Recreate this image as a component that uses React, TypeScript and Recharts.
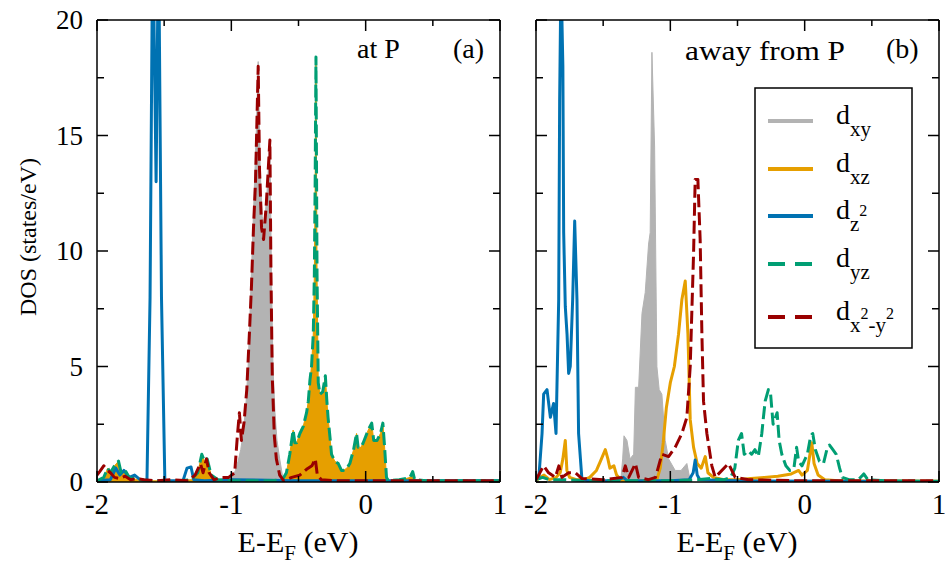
import React from 'react';
import { ComposedChart, Area, Line, XAxis, YAxis } from 'recharts';

type Pt = [number, number];

const energyTicks = [-2, -1.5, -1, -0.5, 0, 0.5, 1];
const dosTicks = [0, 2.5, 5, 7.5, 10, 12.5, 15, 17.5, 20];

// (a) at P : [E - E_F (eV), DOS (states/eV)]
const aXy: Pt[] = [
  [-1.02, 0], [-0.99, 0.2], [-0.97, 0.5], [-0.95, 0.9], [-0.93, 1.4], [-0.91, 2.2], [-0.89, 3.5],
  [-0.875, 5], [-0.86, 7.5], [-0.845, 10], [-0.83, 12.5], [-0.815, 15], [-0.8, 18.2], [-0.785, 13.5],
  [-0.77, 11.5], [-0.755, 11], [-0.735, 12.5], [-0.713, 14.8], [-0.7, 8.5], [-0.69, 5], [-0.675, 3],
  [-0.66, 1.8], [-0.64, 1.0], [-0.62, 0.3], [-0.6, 0.05], [-0.57, 0],
];
const aXz: Pt[] = [
  [-2, 0.05], [-1.95, 0.2], [-1.92, 0.6], [-1.9, 0.4], [-1.87, 0.7], [-1.84, 0.9], [-1.82, 0.4],
  [-1.79, 0.5], [-1.76, 0.2], [-1.7, 0.1], [-1.6, 0.05], [-1.4, 0.05], [-1.3, 0.1], [-1.25, 0.4],
  [-1.22, 1.2], [-1.2, 0.9], [-1.18, 1.0], [-1.15, 0.3], [-1.1, 0.1], [-1.0, 0.05], [-0.7, 0.05],
  [-0.62, 0.1], [-0.59, 0.4], [-0.565, 1.2], [-0.54, 2.25], [-0.527, 1.7], [-0.514, 1.7], [-0.49, 2.1],
  [-0.465, 2.4], [-0.44, 3.0], [-0.427, 3.5], [-0.415, 4.4], [-0.403, 5.0], [-0.39, 6.4], [-0.382, 9],
  [-0.376, 13], [-0.37, 18.4], [-0.362, 9], [-0.353, 4.3], [-0.34, 3.8], [-0.32, 3.9], [-0.3, 4.6],
  [-0.29, 3.6], [-0.28, 2.8], [-0.265, 1.9], [-0.254, 1.2], [-0.23, 0.9], [-0.204, 0.8], [-0.18, 0.5],
  [-0.167, 0.5], [-0.14, 0.6], [-0.118, 0.8], [-0.09, 1.4], [-0.068, 2.1], [-0.056, 1.5], [-0.035, 1.5],
  [-0.018, 1.7], [0.019, 2.25], [0.045, 2.55], [0.06, 1.8], [0.085, 1.8], [0.11, 2.1], [0.128, 2.55],
  [0.14, 1.6], [0.155, 0.2], [0.17, 0.05], [0.25, 0.1], [0.3, 0.15], [0.33, 0.2], [0.35, 0.45],
  [0.365, 0.1], [0.45, 0.05], [1, 0.05],
];
const aZ2: Pt[] = [
  [-2, 0.05], [-1.9, 0.1], [-1.86, 0.6], [-1.83, 0.3], [-1.8, 0.5], [-1.76, 0.2], [-1.72, 0.3],
  [-1.68, 0.1], [-1.64, 0.05], [-1.628, 0.1], [-1.605, 8], [-1.585, 24], [-1.56, 13], [-1.542, 24],
  [-1.52, 8], [-1.495, 0.1], [-1.48, 0.05], [-1.36, 0.05], [-1.33, 0.6], [-1.3, 0.65], [-1.28, 0.1],
  [-1.2, 0.05], [-1.0, 0.1], [-0.5, 0.05], [1, 0.05],
];
const aYz: Pt[] = aXz;
const aX2y2: Pt[] = [
  [-2, 0.3], [-1.98, 0.45], [-1.95, 0.7], [-1.92, 0.5], [-1.9, 0.4], [-1.87, 0.2], [-1.83, 0.15],
  [-1.79, 0.25], [-1.75, 0.1], [-1.7, 0.15], [-1.65, 0.1], [-1.55, 0.05], [-1.45, 0.1], [-1.32, 0.05],
  [-1.27, 0.3], [-1.23, 0.8], [-1.21, 0.4], [-1.185, 1.0], [-1.165, 0.4], [-1.13, 0.1], [-1.07, 0.2],
  [-1.02, 0.2], [-0.975, 0.4], [-0.955, 2.0], [-0.94, 3.0], [-0.925, 1.8], [-0.905, 2.6], [-0.885, 4.0],
  [-0.865, 6.5], [-0.85, 8.5], [-0.835, 11], [-0.82, 13], [-0.81, 15.5], [-0.8, 18.0], [-0.79, 13.5],
  [-0.775, 11], [-0.76, 10.5], [-0.74, 12], [-0.713, 14.8], [-0.705, 9], [-0.695, 4.5], [-0.68, 2.0],
  [-0.665, 1.0], [-0.64, 0.3], [-0.61, 0.05], [-0.55, 0.2], [-0.49, 0.3], [-0.44, 0.55], [-0.4, 0.7],
  [-0.375, 1.0], [-0.36, 0.3], [-0.33, 0.1], [-0.2, 0.05], [0.5, 0.05], [1, 0.05],
];

// (b) away from P
const bXy: Pt[] = [
  [-1.37, 0], [-1.355, 1.0], [-1.345, 2.0], [-1.323, 1.8], [-1.3, 1.0], [-1.273, 1.2], [-1.26, 4.1],
  [-1.236, 4.1], [-1.211, 7.3], [-1.187, 8.2], [-1.162, 10.3], [-1.15, 10.8], [-1.137, 18.6],
  [-1.117, 14.5], [-1.1, 5.0], [-1.083, 4.0], [-1.063, 3.8], [-1.038, 1.8], [-1.013, 1.0], [-0.964, 0.5],
  [-0.92, 0.5], [-0.877, 0.8], [-0.86, 0.3], [-0.84, 0],
];
const bXz: Pt[] = [
  [-2, 0.05], [-1.97, 0.2], [-1.94, 0.3], [-1.9, 0.1], [-1.85, 0.2], [-1.82, 0.4], [-1.8, 1.0],
  [-1.782, 1.8], [-1.77, 0.5], [-1.75, 0.2], [-1.7, 0.1], [-1.64, 0.1], [-1.6, 0.2], [-1.55, 0.5],
  [-1.52, 0.9], [-1.484, 1.4], [-1.465, 1.0], [-1.45, 0.6], [-1.42, 0.7], [-1.4, 0.3], [-1.36, 0.05],
  [-1.2, 0.05], [-1.1, 0.1], [-1.075, 0.6], [-1.053, 1.7], [-1.03, 3.2], [-1.0, 4.3], [-0.97, 5.0],
  [-0.939, 6.4], [-0.914, 7.9], [-0.889, 8.7], [-0.869, 6.4], [-0.852, 2.7], [-0.827, 1.5], [-0.8, 0.8],
  [-0.77, 0.6], [-0.74, 1.1], [-0.72, 0.4], [-0.68, 0.2], [-0.6, 0.1], [-0.5, 0.1], [-0.4, 0.15],
  [-0.3, 0.2], [-0.2, 0.25], [-0.1, 0.35], [-0.045, 0.5], [-0.02, 0.3], [0.02, 0.5], [0.053, 1.7],
  [0.07, 0.8], [0.1, 0.3], [0.15, 0.1], [0.25, 0.05], [1, 0.03],
];
const bZ2: Pt[] = [
  [-1.98, 0.1], [-1.955, 2.1], [-1.943, 3.8], [-1.918, 4.0], [-1.893, 2.8], [-1.869, 3.4], [-1.851, 2.1],
  [-1.831, 7.9], [-1.824, 16.5], [-1.814, 22], [-1.8, 18], [-1.794, 10.8], [-1.782, 7.6], [-1.769, 6.4],
  [-1.757, 4.7], [-1.745, 5.0], [-1.727, 7.9], [-1.712, 11.3], [-1.695, 7.9], [-1.683, 2.1], [-1.658, 0.1],
  [-1.6, 0.05], [-1.4, 0.05], [-1.35, 0.2], [-1.32, 0.05], [-1.0, 0.05], [-0.86, 0.1], [-0.83, 0.4],
  [-0.815, 0.95], [-0.8, 0.3], [-0.78, 0.1], [-0.5, 0.05], [1, 0.02],
];
const bYz: Pt[] = [
  [-2, 0.1], [-1.95, 0.2], [-1.9, 0.1], [-1.8, 0.1], [-1.6, 0.05], [-1.2, 0.05], [-1.0, 0.05],
  [-0.8, 0.1], [-0.7, 0.15], [-0.6, 0.1], [-0.55, 0.2], [-0.52, 0.6], [-0.494, 1.8], [-0.47, 2.1],
  [-0.45, 1.2], [-0.42, 1.35], [-0.395, 1.2], [-0.37, 1.4], [-0.345, 1.1], [-0.319, 2.1], [-0.307, 2.8],
  [-0.294, 3.5], [-0.27, 4.0], [-0.255, 3.9], [-0.235, 2.5], [-0.205, 3.0], [-0.19, 1.8], [-0.17, 1.2],
  [-0.14, 0.7], [-0.11, 0.5], [-0.08, 0.6], [-0.06, 1.5], [-0.045, 0.9], [-0.02, 0.7], [0.02, 1.2],
  [0.045, 2.0], [0.06, 2.1], [0.08, 1.4], [0.11, 0.9], [0.14, 0.8], [0.165, 1.4], [0.185, 1.6],
  [0.21, 1.4], [0.235, 1.2], [0.26, 0.6], [0.28, 0.2], [0.33, 0.1], [0.4, 0.1], [0.44, 0.35],
  [0.47, 0.1], [0.6, 0.05], [1, 0.03],
];
const bX2y2: Pt[] = [
  [-2, 0.1], [-1.99, 0.2], [-1.943, 0.7], [-1.906, 0.4], [-1.856, 0.2], [-1.83, 0.7], [-1.807, 0.2],
  [-1.757, 0.4], [-1.707, 0.4], [-1.658, 0.15], [-1.5, 0.1], [-1.36, 0.2], [-1.335, 0.7], [-1.31, 0.2],
  [-1.26, 0.8], [-1.236, 0.2], [-1.162, 0.1], [-1.11, 0.2], [-1.063, 1.2], [-1.013, 1.1], [-0.964, 1.5],
  [-0.914, 2.1], [-0.877, 2.8], [-0.852, 5.0], [-0.827, 9.9], [-0.815, 13.1], [-0.795, 13.1],
  [-0.778, 10.5], [-0.765, 6.4], [-0.753, 3.5], [-0.728, 2.1], [-0.691, 0.7], [-0.666, 0.2],
  [-0.567, 0.8], [-0.517, 0.2], [-0.418, 0.1], [0, 0.05], [1, 0.05],
];

const C_XY = '#b3b3b3';
const C_XZ = '#e69f00';
const C_Z2 = '#0072b2';
const C_YZ = '#009e73';
const C_X2Y2 = '#990000';

const serif = 'Liberation Serif, DejaVu Serif, serif';
const frame = { stroke: '#000', strokeWidth: 1.5 };
const rows = (pts: Pt[]) => pts.map(([e, dos]) => ({ e, dos }));
const txt = { fontFamily: serif };
const dash = '13 5';

function BottomTick(props: any) {
  const { x, y, payload } = props;
  const major = Number.isInteger(payload.value);
  return (
    <g>
      <line x1={x} x2={x} y1={y} y2={y - (major ? 11 : 6)} stroke="#000" strokeWidth={1.5} />
      {major && (
        <text x={x} y={y + 32} textAnchor="middle" style={txt} fontSize={29} fill="#000">
          {payload.value}
        </text>
      )}
    </g>
  );
}

function TopTick(props: any) {
  const { x, y, payload } = props;
  const major = Number.isInteger(payload.value);
  return <line x1={x} x2={x} y1={y} y2={y + (major ? 11 : 6)} stroke="#000" strokeWidth={1.5} />;
}

function LeftTick(props: any) {
  const { x, y, payload, showLabels } = props;
  const major = payload.value % 5 === 0;
  return (
    <g>
      <line x1={x} x2={x + (major ? 11 : 7)} y1={y} y2={y} stroke="#000" strokeWidth={1.5} />
      {showLabels && major && (
        <text x={x - 14} y={y + 9} textAnchor="end" style={txt} fontSize={27} fill="#000">
          {payload.value}
        </text>
      )}
    </g>
  );
}

function RightTick(props: any) {
  const { x, y, payload } = props;
  const major = payload.value % 5 === 0;
  return <line x1={x} x2={x - (major ? 11 : 7)} y1={y} y2={y} stroke="#000" strokeWidth={1.5} />;
}

function Panel({ left, width, yWidth, right, showLabels, children }: any) {
  return (
    <div style={{ position: 'absolute', left, top: 0 }}>
      <ComposedChart width={width} height={567} margin={{ top: 19, right, left: 0, bottom: 0 }}>
        <XAxis xAxisId="b" dataKey="e" type="number" domain={[-2, 1]} ticks={energyTicks} interval={0}
          allowDataOverflow height={85} tickSize={0} tickMargin={0} tickLine={false} axisLine={frame}
          tick={<BottomTick />} />
        <XAxis xAxisId="t" orientation="top" dataKey="e" type="number" domain={[-2, 1]} ticks={energyTicks}
          interval={0} allowDataOverflow height={1} tickSize={0} tickMargin={0} tickLine={false}
          axisLine={frame} tick={<TopTick />} />
        <YAxis yAxisId="l" type="number" domain={[0, 20]} ticks={dosTicks} interval={0} allowDataOverflow
          width={yWidth} tickSize={0} tickMargin={0} tickLine={false} axisLine={frame}
          tick={<LeftTick showLabels={showLabels} />} />
        <YAxis yAxisId="r" orientation="right" type="number" domain={[0, 20]} ticks={dosTicks} interval={0}
          allowDataOverflow width={1} tickSize={0} tickMargin={0} tickLine={false} axisLine={frame}
          tick={<RightTick />} />
        {children}
      </ComposedChart>
    </div>
  );
}

const lineProps = {
  xAxisId: 'b',
  yAxisId: 'l',
  dataKey: 'dos',
  type: 'linear' as const,
  dot: false,
  activeDot: false,
  strokeWidth: 3,
  isAnimationActive: false,
  strokeLinejoin: 'round' as const,
};

function LegendBox() {
  const x0 = 768;
  const x1 = 813;
  const tx = 836;
  const ys = [121, 169, 216, 264, 317];
  return (
    <g style={txt} fill="#000">
      <rect x={755} y={88} width={157} height={260} fill="#fff" stroke="#000" strokeWidth={1.5} />
      <line x1={x0} x2={x1} y1={ys[0]} y2={ys[0]} stroke={C_XY} strokeWidth={4} />
      <line x1={x0} x2={x1} y1={ys[1]} y2={ys[1]} stroke={C_XZ} strokeWidth={4} />
      <line x1={x0} x2={x1} y1={ys[2]} y2={ys[2]} stroke={C_Z2} strokeWidth={4} />
      <line x1={x0} x2={x1} y1={ys[3]} y2={ys[3]} stroke={C_YZ} strokeWidth={4} strokeDasharray="17 10" />
      <line x1={x0} x2={x1} y1={ys[4]} y2={ys[4]} stroke={C_X2Y2} strokeWidth={4} strokeDasharray="17 10" />
      <text x={tx} y={ys[0] + 3} fontSize={28}>
        d<tspan fontSize={21} dy={12}>xy</tspan>
      </text>
      <text x={tx} y={ys[1] + 3} fontSize={28}>
        d<tspan fontSize={21} dy={12}>xz</tspan>
      </text>
      <text x={tx} y={ys[2] + 3} fontSize={28}>
        d<tspan fontSize={21} dy={12}>z</tspan><tspan fontSize={16} dy={-15}>2</tspan>
      </text>
      <text x={tx} y={ys[3] + 3} fontSize={28}>
        d<tspan fontSize={21} dy={12}>yz</tspan>
      </text>
      <text x={tx} y={ys[4] + 3} fontSize={28}>
        d<tspan fontSize={21} dy={12}>x</tspan><tspan fontSize={16} dy={-13}>2</tspan>
        <tspan fontSize={21} dy={13}>-y</tspan><tspan fontSize={16} dy={-13}>2</tspan>
      </text>
    </g>
  );
}

export default function App() {
  return (
    <div style={{ position: 'absolute', left: 0, top: 0, width: 945, height: 567, background: '#fff', overflow: 'hidden', fontFamily: serif }}>
      <Panel left={0} width={510} yWidth={97} right={9} showLabels>
        <Area {...lineProps} data={rows(aXy)} stroke={C_XY} strokeWidth={1} fill={C_XY} fillOpacity={1} />
        <Area {...lineProps} data={rows(aXz)} stroke={C_XZ} strokeWidth={1} fill={C_XZ} fillOpacity={1} />
        <Line {...lineProps} data={rows(aZ2)} stroke={C_Z2} />
        <Line {...lineProps} data={rows(aYz)} stroke={C_YZ} strokeDasharray={dash} />
        <Line {...lineProps} data={rows(aX2y2)} stroke={C_X2Y2} strokeDasharray={dash} />
      </Panel>
      <Panel left={520} width={425} yWidth={16} right={5} showLabels={false}>
        <Area {...lineProps} data={rows(bXy)} stroke={C_XY} strokeWidth={1} fill={C_XY} fillOpacity={1} />
        <Line {...lineProps} data={rows(bXz)} stroke={C_XZ} />
        <Line {...lineProps} data={rows(bZ2)} stroke={C_Z2} />
        <Line {...lineProps} data={rows(bYz)} stroke={C_YZ} strokeDasharray={dash} />
        <Line {...lineProps} data={rows(bX2y2)} stroke={C_X2Y2} strokeDasharray={dash} />
      </Panel>
      <svg width={945} height={567} style={{ position: 'absolute', left: 0, top: 0, pointerEvents: 'none' }}>
        <g style={txt} fill="#000">
          <text transform="rotate(-90, 28, 237)" x={28} y={237} textAnchor="middle" dominantBaseline="central" fontSize={24}>
            DOS (states/eV)
          </text>
          <text x={298} y={552} textAnchor="middle" fontSize={30}>
            E-E<tspan fontSize={21} dy={8}>F</tspan><tspan dy={-8}> (eV)</tspan>
          </text>
          <text x={737} y={552} textAnchor="middle" fontSize={30}>
            E-E<tspan fontSize={21} dy={8}>F</tspan><tspan dy={-8}> (eV)</tspan>
          </text>
          <text x={357} y={58} fontSize={28}>at P</text>
          <text x={453} y={58} fontSize={28}>(a)</text>
          <text x={685} y={60} fontSize={28} textLength={160} lengthAdjust="spacingAndGlyphs">away from P</text>
          <text x={886} y={58} fontSize={28}>(b)</text>
        </g>
        <LegendBox />
      </svg>
    </div>
  );
}
